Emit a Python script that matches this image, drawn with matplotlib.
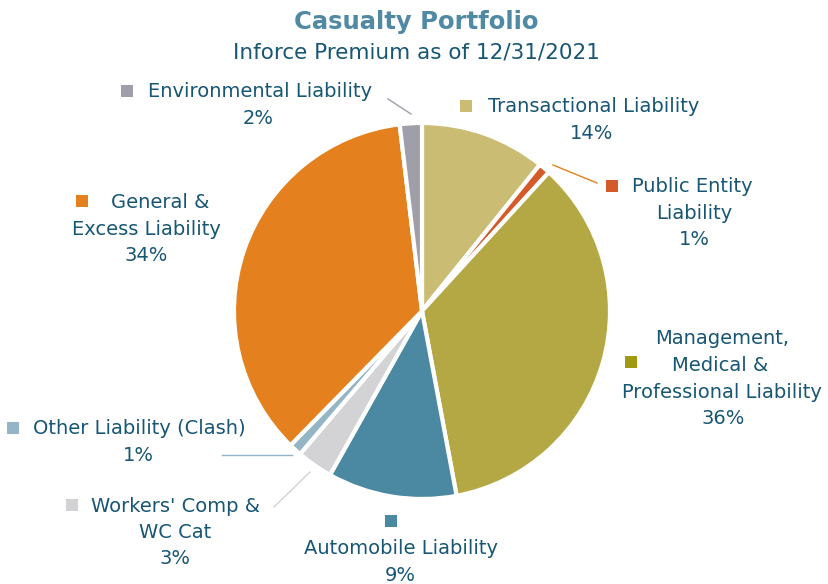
import matplotlib.pyplot as plt

W_PX, H_PX = 829, 584

segments = ["Transactional Liability", "Public Entity Liability",
            "Management, Medical & Professional Liability", "Automobile Liability",
            "Workers' Comp & WC Cat", "Other Liability (Clash)",
            "General & Excess Liability", "Environmental Liability"]
shares = [10.8, 1.0, 35.3, 11.1, 3.1, 1.1, 35.8, 1.9]
pct_labels = ["14%", "1%", "36%", "9%", "3%", "1%", "34%", "2%"]
colors = ["#CBBC74", "#D45A2A", "#B3A843", "#4B89A3",
          "#D3D3D5", "#93B5C6", "#E5801E", "#9E9FA9"]

TXT = "#175674"
TITLE = "#5089A3"
FONT = "DejaVu Sans"
FS = 14

fig = plt.figure(figsize=(W_PX / 100, H_PX / 100), dpi=100)
ax = fig.add_axes([0, 0, 1, 1])


def Y(y):
    return H_PX - y


ax.pie(shares, colors=colors, startangle=90, counterclock=False,
       center=(422, Y(311)), radius=188,
       wedgeprops=dict(edgecolor="white", linewidth=3))
ax.set_xlim(0, W_PX)
ax.set_ylim(0, H_PX)
ax.set_aspect("equal")
ax.axis("off")


def label(lines, y0, sq=None, color=None):
    for i, (ln, x) in enumerate(lines):
        ax.text(x, Y(y0 + i * 26.5), ln, ha="center", va="center",
                fontsize=FS, color=TXT, family=FONT)
    if sq is not None:
        ax.scatter([sq[0]], [Y(sq[1])], marker="s", s=70, color=color,
                   linewidths=0)


ax.text(416, Y(22), "Casualty Portfolio", ha="center", va="center",
        fontsize=17.5, fontweight="bold", color=TITLE, family=FONT)
ax.text(416, Y(52), "Inforce Premium as of 12/31/2021", ha="center",
        va="center", fontsize=15.5, color=TXT, family=FONT)

# labels: (text, centre x) per line
label([("Environmental Liability", 260), ("2%", 258)], 92,
      sq=(127, 91), color=colors[7])
label([("Transactional Liability", 594), ("14%", 592)], 107,
      sq=(466, 106), color=colors[0])
label([("Public Entity", 692), ("Liability", 694), ("1%", 694)], 187,
      sq=(612, 186), color=colors[1])
label([("Management,", 722), ("Medical &", 720), ("Professional Liability", 722),
       ("36%", 723)], 339, sq=(631, 362), color="#A09A12")
label([("General &", 160), ("Excess Liability", 146), ("34%", 146)], 203,
      sq=(82, 201), color=colors[6])
label([("Other Liability (Clash)", 139), ("1%", 138)], 429,
      sq=(13, 428), color=colors[5])
label([("Workers' Comp &", 176), ("WC Cat", 175), ("3%", 175)], 506,
      sq=(72, 505), color=colors[4])
label([("Automobile Liability", 401), ("9%", 400)], 549)
ax.scatter([391], [Y(521)], marker="s", s=70, color=colors[3], linewidths=0)

# leader lines
ax.plot([388, 411], [Y(99), Y(114)], color=colors[7], lw=1)
ax.plot([553, 597], [Y(165), Y(183)], color=colors[6], lw=1)
ax.plot([222, 292], [Y(455), Y(455)], color=colors[5], lw=1)
ax.plot([274, 310], [Y(507), Y(472)], color=colors[4], lw=1)

fig.savefig("out.png", dpi=100, facecolor="white")
